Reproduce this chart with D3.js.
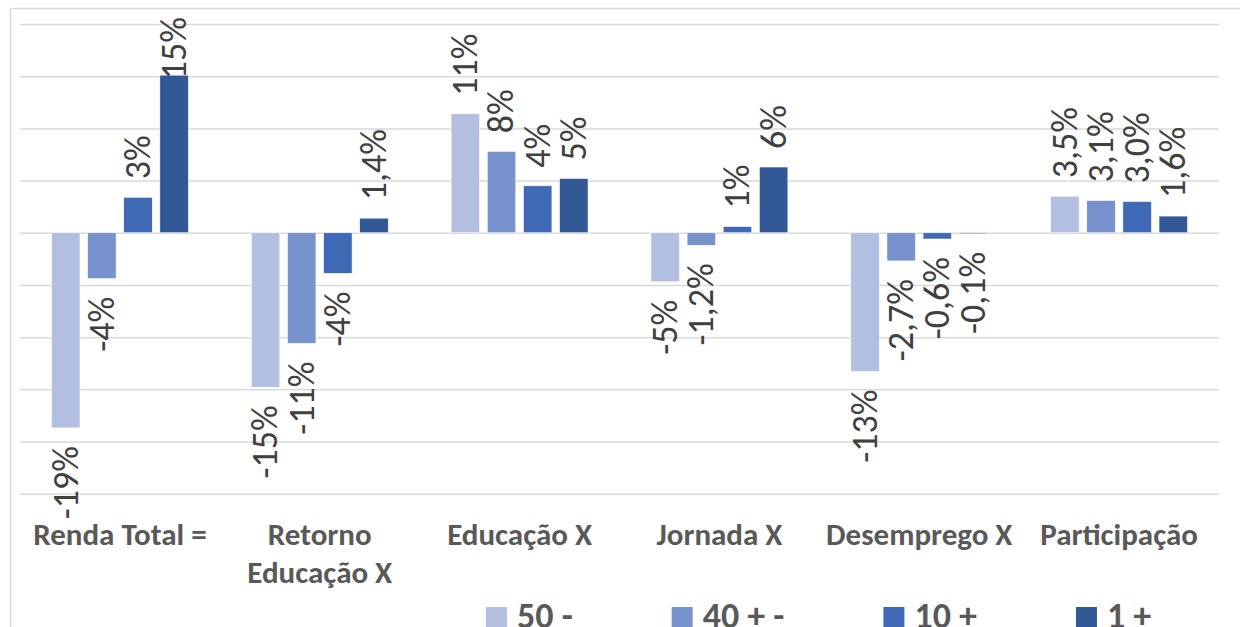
<!DOCTYPE html>
<html>
<head>
<meta charset="utf-8">
<script src="https://cdn.jsdelivr.net/npm/d3@7"></script>
<style>
  html, body { margin: 0; padding: 0; background: #fff; }
  svg { display: block; }
</style>
</head>
<body>
<svg id="chart" width="1240" height="627"></svg>
<script>
const categories = ["Renda Total =", "Retorno Educação X", "Educação X", "Jornada X", "Desemprego X", "Participação"];
const seriesNames = ["50 -", "40 + -", "10 +", "1 +"];
const seriesColors = ["#b3bfe0", "#7892ce", "#3f69b5", "#325897"];
const s50 = [-18.7, -14.8, 11.4, -4.7, -13.3, 3.5];
const s40 = [-4.4, -10.6, 7.8, -1.2, -2.7, 3.1];
const s10 = [3.4, -3.9, 4.5, 0.6, -0.6, 3.0];
const s1  = [15.1, 1.4, 5.2, 6.3, -0.1, 1.6];
const l50 = ["-19%", "-15%", "11%", "-5%", "-13%", "3,5%"];
const l40 = ["-4%", "-11%", "8%", "-1,2%", "-2,7%", "3,1%"];
const l10 = ["3%", "-4%", "4%", "1%", "-0,6%", "3,0%"];
const l1  = ["15%", "1,4%", "5%", "6%", "-0,1%", "1,6%"];
const yTicks = [-25, -20, -15, -10, -5, 0, 5, 10, 15, 20];

const seriesValues = [s50, s40, s10, s1];
const seriesLabels = [l50, l40, l10, l1];

const svg = d3.select("#chart");
const W = 1240, H = 627;
const frame = {x: 10, y: 8};
const plot = {left: 20, right: 1219, top: 24, bottom: 493.7};
const FONT = "Carlito, Calibri, 'Open Sans', sans-serif";

// outer frame
svg.append("rect")
  .attr("x", frame.x + 0.5).attr("y", frame.y + 0.5)
  .attr("width", W + 20).attr("height", H + 20)
  .attr("fill", "none").attr("stroke", "#d9d9d9").attr("stroke-width", 1.5);

const x = d3.scaleBand().domain(categories).range([plot.left, plot.right]).paddingInner(0).paddingOuter(0);
const xs = d3.scaleBand().domain(seriesNames).range([0, x.bandwidth()]).paddingInner(0.21).paddingOuter(0.87);
const y = d3.scaleLinear().domain([d3.min(yTicks), d3.max(yTicks)]).range([plot.bottom, plot.top]);

// gridlines
const grid = svg.append("g").attr("transform", `translate(${plot.left},0)`)
  .call(d3.axisLeft(y).tickValues(yTicks).tickSize(-(plot.right - plot.left)).tickFormat(""));
grid.select(".domain").remove();
grid.selectAll(".tick line").attr("stroke", "#d9d9d9").attr("stroke-width", 1.5);

// data
const data = [];
seriesNames.forEach((s, si) => {
  categories.forEach((c, ci) => {
    data.push({cat: c, series: s, si, value: seriesValues[si][ci], label: seriesLabels[si][ci]});
  });
});

// bars
svg.append("g").selectAll("rect").data(data).join("rect")
  .attr("x", d => x(d.cat) + xs(d.series))
  .attr("y", d => Math.min(y(d.value), y(0)))
  .attr("width", xs.bandwidth())
  .attr("height", d => Math.abs(y(d.value) - y(0)))
  .attr("fill", d => seriesColors[d.si])
  .attr("stroke", "#ffffff").attr("stroke-width", 0.6);

// data labels
const gap = 18;
const minTop = frame.y + 9;
const lblG = svg.append("g");
data.forEach(d => {
  const cx = x(d.cat) + xs(d.series) + xs.bandwidth() / 2;
  const t = lblG.append("text")
    .attr("font-family", FONT)
    .attr("font-size", 36)
    .attr("fill", "#404040")
    .attr("dy", "0.33em")
    .text(d.label);
  const len = t.node().getComputedTextLength();
  let yy, anchor;
  if (d.value >= 0) {
    yy = Math.max(y(d.value) - gap, minTop + len);
    anchor = "start";
  } else {
    yy = y(d.value) + gap;
    anchor = "end";
  }
  t.attr("text-anchor", anchor)
   .attr("transform", `translate(${cx},${yy}) rotate(-90)`);
});

// category labels with wrapping
const catG = svg.append("g");
const catY = 545, lineH = 38;
categories.forEach(c => {
  const cxm = x(c) + x.bandwidth() / 2;
  const t = catG.append("text")
    .attr("x", cxm)
    .attr("y", catY)
    .attr("text-anchor", "middle")
    .attr("font-family", FONT)
    .attr("font-weight", "bold")
    .attr("font-size", 31)
    .attr("fill", "#595959");
  const words = c.split(" ");
  let line = [];
  let tspan = t.append("tspan").attr("x", cxm).attr("dy", 0);
  words.forEach(w => {
    line.push(w);
    tspan.text(line.join(" "));
    if (tspan.node().getComputedTextLength() > x.bandwidth() - 4 && line.length > 1) {
      line.pop();
      tspan.text(line.join(" "));
      line = [w];
      tspan = t.append("tspan").attr("x", cxm).attr("dy", lineH).text(w);
    }
  });
});

// legend
const legG = svg.append("g");
const sw = 21, swTop = 607, legGap = 99, textOff = 31;
let lx = 486;
seriesNames.forEach((s, i) => {
  legG.append("rect").attr("x", lx).attr("y", swTop).attr("width", sw).attr("height", sw)
    .attr("fill", seriesColors[i]);
  const t = legG.append("text").attr("x", lx + textOff).attr("y", 628)
    .attr("font-family", FONT)
    .attr("font-weight", "bold").attr("font-size", 36).attr("fill", "#595959")
    .text(s);
  lx += textOff + t.node().getComputedTextLength() + legGap;
});
</script>
</body>
</html>
